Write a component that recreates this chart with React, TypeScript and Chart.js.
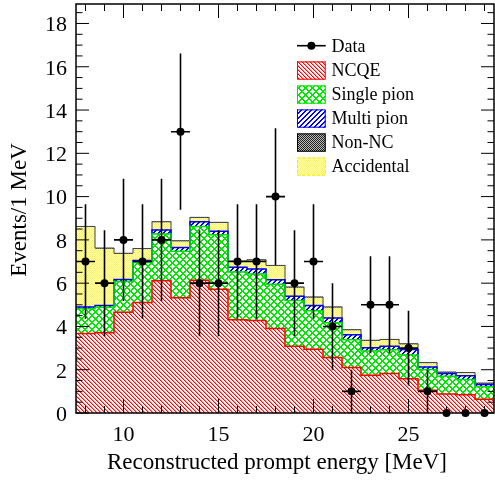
import React, { useEffect, useRef } from "react";
import { Chart, registerables } from "chart.js";
Chart.register(...registerables);

// ---------- data ----------
const binCenters = [8, 9, 10, 11, 12, 13, 14, 15, 16, 17, 18, 19, 20, 21, 22, 23, 24, 25, 26, 27, 28, 29];
const ncqe = [3.67, 3.71, 4.66, 5.11, 6.11, 5.33, 6.14, 5.72, 4.31, 4.28, 3.9, 3.08, 2.95, 2.56, 2.1, 1.75, 1.83, 1.58, 1.05, 0.88, 0.84, 0.63];
const singlePion = [1.15, 1.18, 1.42, 1.85, 2.16, 2.14, 2.48, 2.52, 2.21, 2.14, 2.05, 2.12, 1.77, 1.61, 1.29, 1.12, 1.09, 1.1, 0.96, 0.82, 0.71, 0.58];
const multiPion = [0.08, 0.08, 0.09, 0.09, 0.19, 0.18, 0.22, 0.16, 0.22, 0.23, 0.21, 0.2, 0.25, 0.22, 0.23, 0.15, 0.16, 0.25, 0.12, 0.13, 0.17, 0.11];
const accidental = [3.68, 2.61, 1.17, 0.51, 0.34, 0.27, 0.16, 0.37, 0.24, 0.39, 0.62, 0.38, 0.35, 0.47, 0.19, 0.3, 0.28, 0.23, 0.16, 0.02, 0.11, 0.02];
const nonNC = [0.04, 0.04, 0.04, 0.04, 0.04, 0.04, 0.04, 0.04, 0.04, 0.04, 0.04, 0.04, 0.04, 0.04, 0.04, 0.04, 0.04, 0.04, 0.04, 0.04, 0.04, 0.04];
const dataCounts = [7, 6, 8, 7, 8, 13, 6, 6, 7, 7, 10, 6, 7, 4, 1, 5, 5, 3, 1, 0, 0, 0];
const dataErr = [2.65, 2.45, 2.83, 2.65, 2.83, 3.61, 2.45, 2.45, 2.65, 2.65, 3.16, 2.45, 2.65, 2.0, 1.0, 2.24, 2.24, 1.73, 1.0, 0, 0, 0];
const xTicks = [10, 15, 20, 25];
const yTicks = [0, 2, 4, 6, 8, 10, 12, 14, 16, 18];
const seriesNames = ["Data", "NCQE", "Single pion", "Multi pion", "Non-NC", "Accidental"];
const xTitle = "Reconstructed prompt energy [MeV]";
const yTitle = "Events/1 MeV";

const X_MIN = 7.5;
const X_MAX = 29.5;
const Y_MAX = 18.9;
const SERIF = "'Liberation Serif', 'DejaVu Serif', serif";

function makePattern(
  ctx: CanvasRenderingContext2D,
  size: number,
  bg: string,
  paint: (x: number, y: number) => string | null
): CanvasPattern {
  const c = document.createElement("canvas");
  c.width = size;
  c.height = size;
  const g = c.getContext("2d")!;
  g.fillStyle = bg;
  g.fillRect(0, 0, size, size);
  for (let y = 0; y < size; y++) {
    for (let x = 0; x < size; x++) {
      const col = paint(x, y);
      if (col) {
        g.fillStyle = col;
        g.fillRect(x, y, 1, 1);
      }
    }
  }
  return ctx.createPattern(c, "repeat")!;
}

const mod = (a: number, n: number) => ((a % n) + n) % n;

function cumulative(layers: number[][]): number[][] {
  const out: number[][] = [];
  let run = layers[0].map(() => 0);
  for (const l of layers) {
    run = run.map((v, i) => v + l[i]);
    out.push(run.slice());
  }
  return out;
}

function stepPoints(vals: number[]) {
  const pts = binCenters.map((c, i) => ({ x: c - 0.5, y: vals[i] }));
  const last = binCenters.length - 1;
  pts.push({ x: binCenters[last] + 0.5, y: vals[last] });
  return pts;
}

export default function App() {
  const ref = useRef<HTMLCanvasElement>(null);

  useEffect(() => {
    document.body.style.margin = "0";
    const canvas = ref.current!;
    const ctx = canvas.getContext("2d")!;

    const pNCQE = makePattern(ctx, 4, "#ffffff", (x, y) => {
      const k = mod(x - y, 4);
      return k === 0 ? "#ff0000" : k === 1 ? "#ff9a9a" : null;
    });
    const pSingle = makePattern(ctx, 7, "#ffffff", (x, y) =>
      mod(x + y, 7) < 2 || mod(x - y, 7) < 2 ? "#00e600" : null
    );
    const pMulti = makePattern(ctx, 5, "#ffffff", (x, y) =>
      mod(x + y, 5) < 2 ? "#0000ff" : null
    );
    const pNonNC = makePattern(ctx, 2, "#bbbbbb", (x, y) => (mod(x + y, 2) === 0 ? "#222222" : null));
    const pAcc = makePattern(ctx, 2, "#ffffb8", (x, y) => (mod(x + y, 2) === 0 ? "#fff460" : null));

    // stacking order bottom -> top
    const layers = [ncqe, singlePion, multiPion, accidental, nonNC];
    const cum = cumulative(layers);

    const barDs = (label: string, vals: number[], bg: CanvasPattern) => ({
      type: "bar" as const,
      label,
      data: binCenters.map((c, i) => ({ x: c, y: vals[i] })),
      backgroundColor: bg,
      borderWidth: 0,
      stack: "mc",
      barPercentage: 1,
      categoryPercentage: 1,
      order: 3,
    });
    const lineDs = (key: string, vals: number[], color: string, w: number) => ({
      type: "line" as const,
      label: key,
      data: stepPoints(vals),
      borderColor: color,
      borderWidth: w,
      pointRadius: 0,
      fill: false,
      stepped: "before" as const,
      stack: key,
      order: 2,
    });

    const dataPoints = binCenters.map((c, i) => ({ x: c, y: dataCounts[i] }));

    const errorBars = {
      id: "errorBars",
      afterDatasetsDraw(chart: any) {
        const xs = chart.scales.x;
        const ys = chart.scales.y;
        const g = chart.ctx as CanvasRenderingContext2D;
        g.save();
        g.strokeStyle = "#000";
        g.lineWidth = 1.6;
        binCenters.forEach((c, i) => {
          const e = dataErr[i];
          if (e <= 0) return;
          const n = dataCounts[i];
          const px = xs.getPixelForValue(c);
          const py = ys.getPixelForValue(n);
          g.beginPath();
          g.moveTo(px, ys.getPixelForValue(Math.max(0, n - e)));
          g.lineTo(px, ys.getPixelForValue(n + e));
          g.moveTo(xs.getPixelForValue(c - 0.5), py);
          g.lineTo(xs.getPixelForValue(c + 0.5), py);
          g.stroke();
        });
        g.restore();
      },
    };

    const frame = {
      id: "frame",
      afterDraw(chart: any) {
        const g = chart.ctx as CanvasRenderingContext2D;
        const a = chart.chartArea;
        const xs = chart.scales.x;
        const ys = chart.scales.y;
        g.save();
        g.strokeStyle = "#000";
        g.lineWidth = 1;
        g.beginPath();
        // y ticks (left & right, inside)
        for (let v = 0; v <= Y_MAX + 1e-9; v += 0.5) {
          const py = ys.getPixelForValue(v);
          const major = yTicks.includes(Math.round(v * 100) / 100);
          const len = major ? 13 : 6.5;
          g.moveTo(a.left, py);
          g.lineTo(a.left + len, py);
          g.moveTo(a.right, py);
          g.lineTo(a.right - len, py);
        }
        // x ticks (bottom & top, inside)
        for (let v = Math.ceil(X_MIN); v <= X_MAX; v += 1) {
          const px = xs.getPixelForValue(v);
          const major = xTicks.includes(v);
          const len = major ? 14 : 7;
          g.moveTo(px, a.bottom);
          g.lineTo(px, a.bottom - len);
          g.moveTo(px, a.top);
          g.lineTo(px, a.top + len);
        }
        g.stroke();
        g.lineWidth = 1.5;
        g.strokeRect(a.left, a.top, a.right - a.left, a.bottom - a.top);

        // axis titles
        g.fillStyle = "#000";
        g.font = `23px ${SERIF}`;
        g.textAlign = "center";
        g.textBaseline = "alphabetic";
        g.fillText(xTitle, 277, 469);
        g.save();
        g.translate(25.5, 210);
        g.rotate(-Math.PI / 2);
        g.fillText(yTitle, 0, 0);
        g.restore();

        // legend
        const sx = 297;
        const sw = 28.7;
        const tx = 331.5;
        const base0 = 51.7;
        const step = 24;
        g.font = `18px ${SERIF}`;
        g.textAlign = "left";
        const fills: (CanvasPattern | null)[] = [null, pNCQE, pSingle, pMulti, pNonNC, pAcc];
        const borders = ["#000", "#ff0000", "#00e600", "#0000ff", "#000000", "#f5e800"];
        seriesNames.forEach((name, i) => {
          const bl = base0 + i * step;
          if (i === 0) {
            const cy = bl - 6;
            g.strokeStyle = "#000";
            g.lineWidth = 1.6;
            g.beginPath();
            g.moveTo(sx, cy);
            g.lineTo(sx + sw, cy);
            g.stroke();
            g.fillStyle = "#000";
            g.beginPath();
            g.arc(sx + sw / 2, cy, 4, 0, Math.PI * 2);
            g.fill();
          } else {
            const top = bl - 14.3;
            g.fillStyle = fills[i]!;
            g.fillRect(sx, top, sw, 18.3);
            g.strokeStyle = borders[i];
            g.lineWidth = 1;
            if (i === 5) g.setLineDash([3, 2]);
            g.strokeRect(sx + 0.5, top + 0.5, sw - 1, 17.3);
            g.setLineDash([]);
          }
          g.fillStyle = "#000";
          g.fillText(name, tx, bl);
        });
        g.restore();
      },
    };

    const chart = new Chart(ctx, {
      type: "bar",
      data: {
        datasets: [
          {
            type: "line",
            label: seriesNames[0],
            data: dataPoints,
            showLine: false,
            pointRadius: 4,
            pointBackgroundColor: "#000",
            pointBorderWidth: 0,
            stack: "data",
            clip: false as any,
            order: 1,
          },
          lineDs("outlineNCQE", cum[0], "#ff0000", 1.5),
          lineDs("outlineSingle", cum[1], "#00dd00", 1.5),
          lineDs("outlineMulti", cum[2], "#0000ff", 1.5),
          lineDs("outlineTotal", cum[4], "#444444", 1),
          barDs(seriesNames[1], ncqe, pNCQE),
          barDs(seriesNames[2], singlePion, pSingle),
          barDs(seriesNames[3], multiPion, pMulti),
          barDs(seriesNames[5], accidental, pAcc),
          barDs(seriesNames[4], nonNC, pNonNC),
        ] as any,
      },
      options: {
        responsive: false,
        animation: false,
        layout: { padding: { top: 3, right: 1, left: 0, bottom: 0 } },
        plugins: { legend: { display: false }, tooltip: { enabled: false } },
        scales: {
          x: {
            type: "linear",
            min: X_MIN,
            max: X_MAX,
            offset: false,
            grid: { display: false, drawTicks: false },
            border: { display: false },
            ticks: {
              autoSkip: false,
              maxRotation: 0,
              color: "#000",
              font: { family: SERIF, size: 22 },
              padding: 9,
            },
            afterBuildTicks: (s: any) => {
              s.ticks = xTicks.map((v) => ({ value: v }));
            },
            afterFit: (s: any) => {
              s.height = 67;
              s.paddingLeft = 0;
              s.paddingRight = 0;
            },
          },
          y: {
            type: "linear",
            stacked: true,
            min: 0,
            max: Y_MAX,
            grid: { display: false, drawTicks: false },
            border: { display: false },
            ticks: {
              autoSkip: false,
              color: "#000",
              font: { family: SERIF, size: 22 },
              padding: 9,
              labelOffset: 2,
            },
            afterBuildTicks: (s: any) => {
              s.ticks = yTicks.map((v) => ({ value: v }));
            },
            afterFit: (s: any) => {
              s.width = 76;
              s.paddingTop = 0;
              s.paddingBottom = 0;
            },
          },
        },
      } as any,
      plugins: [errorBars, frame],
    });

    return () => chart.destroy();
  }, []);

  return (
    <div style={{ width: 495, height: 480, overflow: "hidden", position: "relative" }}>
      <canvas ref={ref} width={498} height={480} style={{ display: "block", width: 498, height: 480 }} />
    </div>
  );
}
